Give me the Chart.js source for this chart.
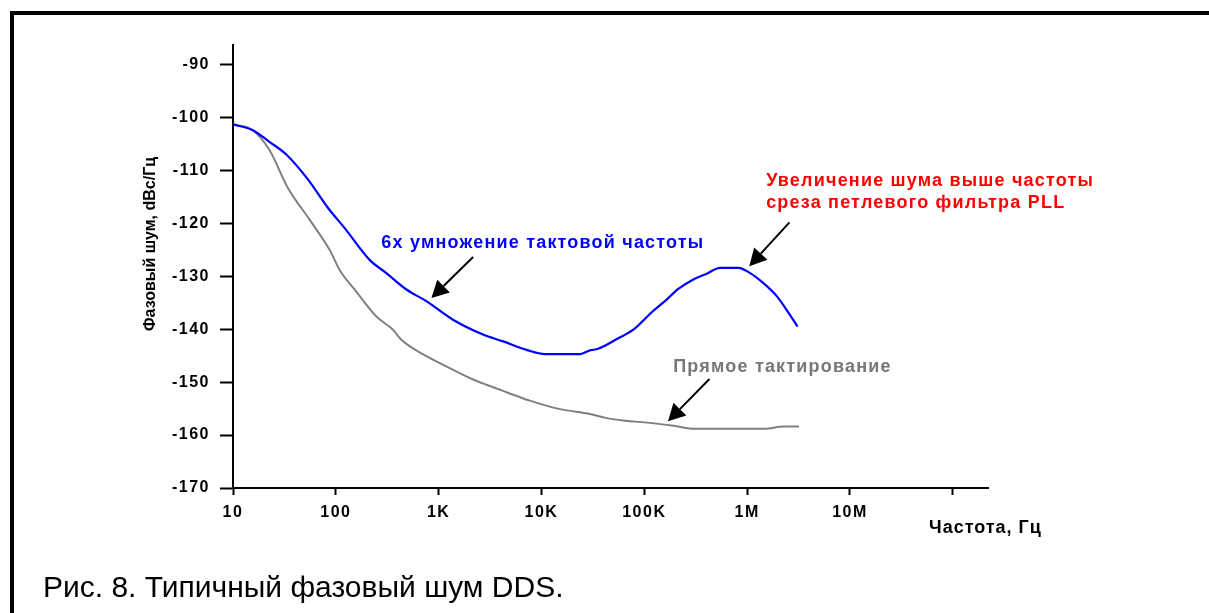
<!DOCTYPE html>
<html><head><meta charset="utf-8">
<script src="https://cdn.jsdelivr.net/npm/chart.js@4/dist/chart.umd.min.js"></script>
<style>html,body{margin:0;padding:0;background:#fff;overflow:hidden}canvas{display:block}</style>
</head><body>
<canvas id="c" width="1209" height="613"></canvas>
<script>
// ---- data ----
const blueFreq = [10, 15.6, 22.6, 33, 53.5, 84, 122, 213, 310, 486, 760, 1380, 2700, 4240, 7160, 10800, 23700, 29600, 35600, 55900, 78200, 118000, 165000, 214000, 300000, 405000, 546000, 823000, 1070000, 1440000, 1950000, 2530000, 3090000];
const blueNoise = [-101.3, -102.4, -104.6, -107.0, -111.7, -117.1, -120.9, -126.9, -129.4, -132.5, -134.7, -138.2, -141.0, -142.3, -143.9, -144.7, -144.7, -144.0, -143.7, -141.7, -140.1, -136.8, -134.4, -132.4, -130.6, -129.5, -128.4, -128.4, -129.4, -131.3, -133.8, -136.9, -139.5];
const grayFreq = [10, 15.6, 22.7, 34.2, 55.6, 87, 109, 158, 248, 360, 434, 760, 1024, 2160, 2920, 4580, 7700, 15100, 29600, 43000, 72700, 100000, 200000, 305000, 1460000, 2290000, 3200000];
const grayNoise = [-101.3, -102.4, -106.2, -113.3, -119.3, -125.0, -128.8, -132.9, -137.6, -140.1, -142.0, -145.1, -146.4, -149.5, -150.5, -151.9, -153.5, -155.1, -156.0, -156.8, -157.4, -157.6, -158.3, -158.8, -158.8, -158.4, -158.4];

const xTickValues = [10, 100, 1e3, 1e4, 1e5, 1e6, 1e7, 1e8];
const xTickLabels = ['10', '100', '1K', '10K', '100K', '1M', '10M', ''];
const yTickValues = [-170, -160, -150, -140, -130, -120, -110, -100, -90];
const yTickLabels = ['-170', '-160', '-150', '-140', '-130', '-120', '-110', '-100', '-90'];

const xMin = 10, xMax = 2.2e8, yMin = -170, yMax = -86.3;

const yTitle = 'Фазовый шум, dBc/Гц';
const xTitle = 'Частота, Гц';
const caption = 'Рис. 8. Типичный фазовый шум DDS.';

// annotation texts, anchored in data space (freq, dB)
const noteBlue = { lines: ['6x умножение тактовой частоты'], color: '#0000ff', at: [277, -124.6], tail: [2163, -126.35], tip: [851, -134.1] };
const noteRed = { lines: ['Увеличение шума выше частоты', 'среза петлевого фильтра PLL'], color: '#ff0000', at: [1.53e6, -112.9], tail: [2.58e6, -119.8], tip: [1.05e6, -128.1] };
const noteGray = { lines: ['Прямое тактирование'], color: '#777777', at: [191000, -148.0], tail: [430000, -149.4], tip: [170000, -157.4] };
const notes = [noteBlue, noteRed, noteGray];

const FONT = '"Liberation Sans", Arial, sans-serif';

function arrow(ctx, x1, y1, x2, y2) {
  const ang = Math.atan2(y2 - y1, x2 - x1);
  const hl = 17, hw = 9;
  const bx = x2 - hl * Math.cos(ang), by = y2 - hl * Math.sin(ang);
  ctx.strokeStyle = '#000'; ctx.fillStyle = '#000'; ctx.lineWidth = 2;
  ctx.beginPath(); ctx.moveTo(x1, y1); ctx.lineTo(bx, by); ctx.stroke();
  ctx.beginPath();
  ctx.moveTo(x2, y2);
  ctx.lineTo(bx + hw * Math.sin(ang), by - hw * Math.cos(ang));
  ctx.lineTo(bx - hw * Math.sin(ang), by + hw * Math.cos(ang));
  ctx.closePath(); ctx.fill();
}

const deco = {
  id: 'deco',
  beforeDraw(chart) {
    const ctx = chart.ctx;
    ctx.save();
    ctx.fillStyle = '#000';
    ctx.fillRect(10, 11, 4, 700);
    ctx.fillRect(10, 11, 1300, 4);
    ctx.restore();
    ctx.letterSpacing = '1.5px';
  },
  afterDraw(chart) {
    const ctx = chart.ctx, xs = chart.scales.x, ys = chart.scales.y;
    ctx.save();
    ctx.letterSpacing = '1.2px';
    ctx.textBaseline = 'alphabetic';
    ctx.textAlign = 'left';
    ctx.font = 'bold 18px ' + FONT;
    notes.forEach(n => {
      ctx.fillStyle = n.color;
      const x = xs.getPixelForValue(n.at[0]);
      let y = ys.getPixelForValue(n.at[1]);
      n.lines.forEach((l, i) => ctx.fillText(l, x, y + i * 22));
      arrow(ctx, xs.getPixelForValue(n.tail[0]), ys.getPixelForValue(n.tail[1]), xs.getPixelForValue(n.tip[0]), ys.getPixelForValue(n.tip[1]));
    });
    // axis titles
    ctx.fillStyle = '#000';
    ctx.letterSpacing = '1px';
    ctx.font = 'bold 18px ' + FONT;
    ctx.fillText(xTitle, 929, 533);
    ctx.save();
    ctx.translate(155, 244);
    ctx.rotate(-Math.PI / 2);
    ctx.textAlign = 'center';
    ctx.letterSpacing = '0px';
    ctx.font = 'bold 16px ' + FONT;
    ctx.fillText(yTitle, 0, 0);
    ctx.restore();
    // caption
    ctx.letterSpacing = '0px';
    ctx.font = '30px ' + FONT;
    ctx.fillStyle = '#000';
    ctx.fillText(caption, 43, 597);
    ctx.restore();
  }
};

const tickFont = { family: FONT, size: 16, weight: 'bold' };

new Chart(document.getElementById('c'), {
  type: 'line',
  data: {
    datasets: [
      { data: blueFreq.map((f, i) => ({ x: f, y: blueNoise[i] })), borderColor: '#0000ff', borderWidth: 2.2, pointRadius: 0, fill: false, cubicInterpolationMode: 'monotone' },
      { data: grayFreq.map((f, i) => ({ x: f, y: grayNoise[i] })), borderColor: '#808080', borderWidth: 2, pointRadius: 0, fill: false, cubicInterpolationMode: 'monotone' }
    ]
  },
  options: {
    responsive: false, animation: false, devicePixelRatio: 1,
    layout: { padding: { left: 0, top: 45, right: 221, bottom: 0 } },
    plugins: { legend: { display: false }, tooltip: { enabled: false } },
    scales: {
      x: {
        type: 'logarithmic', min: xMin, max: xMax,
        afterFit(s) { s.height = 125; },
        afterBuildTicks(s) { s.ticks = xTickValues.map(v => ({ value: v })); },
        ticks: { callback: (v, i) => xTickLabels[i], font: tickFont, color: '#000', padding: 8, maxRotation: 0, autoSkip: false },
        grid: { display: true, drawOnChartArea: false, drawTicks: true, tickLength: 7, tickWidth: 2, tickColor: '#000' },
        border: { display: true, color: '#000', width: 2 }
      },
      y: {
        type: 'linear', min: yMin, max: yMax,
        afterFit(s) { s.width = 233; },
        afterBuildTicks(s) { s.ticks = yTickValues.map(v => ({ value: v })); },
        ticks: { callback: (v, i) => yTickLabels[i], font: tickFont, color: '#000', padding: 10, autoSkip: false },
        grid: { display: true, drawOnChartArea: false, drawTicks: true, tickLength: 13, tickWidth: 2, tickColor: '#000' },
        border: { display: true, color: '#000', width: 2 }
      }
    }
  },
  plugins: [deco]
});
</script>
</body></html>
